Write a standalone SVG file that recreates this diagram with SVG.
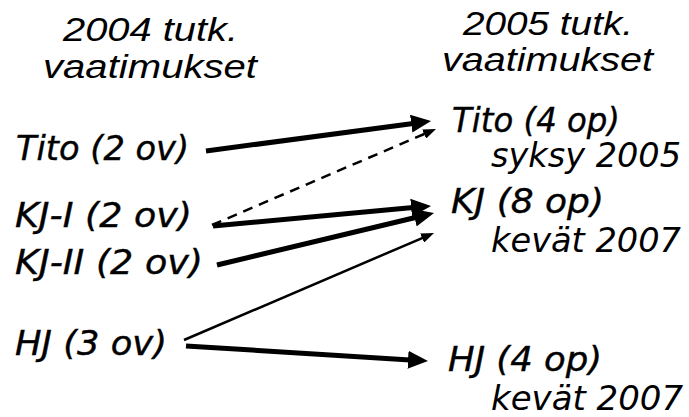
<svg xmlns="http://www.w3.org/2000/svg" width="689" height="417" viewBox="0 0 689 417">
<defs>
<style>
.hdr{font-family:"Liberation Sans",Arial,sans-serif;font-style:italic;font-size:33px;fill:#000}
.lbl{font-family:"DejaVu Sans",Verdana,sans-serif;font-style:italic;font-size:33px;fill:#000;stroke:#000;stroke-width:0.4}
.sub{font-family:"DejaVu Sans",Verdana,sans-serif;font-style:italic;font-size:33px;fill:#000}
.thick{stroke:#000;stroke-width:5;fill:none;marker-end:url(#headL)}
.thin{stroke:#000;stroke-width:2.5;fill:none;marker-end:url(#headS)}
.dash{stroke-dasharray:10 7}
</style>
<marker id="headL" markerUnits="userSpaceOnUse" markerWidth="22" markerHeight="18" refX="2" refY="9" orient="auto">
<path d="M0,0 L20,9 L0,18 z" fill="#000"/>
</marker>
<marker id="headS" markerUnits="userSpaceOnUse" markerWidth="15" markerHeight="10" refX="2" refY="5" orient="auto">
<path d="M0,0 L13,5 L0,10 z" fill="#000"/>
</marker>
</defs>
<rect width="689" height="417" fill="#fff"/>
<g id="header-2004">
<text class="hdr" x="63" y="41" textLength="175" lengthAdjust="spacingAndGlyphs">2004 tutk.</text>
<text class="hdr" x="43" y="78" textLength="214" lengthAdjust="spacingAndGlyphs">vaatimukset</text>
</g>
<g id="header-2005">
<text class="hdr" x="463" y="35" textLength="170" lengthAdjust="spacingAndGlyphs">2005 tutk.</text>
<text class="hdr" x="442" y="71" textLength="211" lengthAdjust="spacingAndGlyphs">vaatimukset</text>
</g>
<g id="tito-2004"><text class="lbl" x="16" y="160" textLength="173" lengthAdjust="spacingAndGlyphs">Tito (2 ov)</text></g>
<g id="kj1-2004"><text class="lbl" x="15" y="227" textLength="177" lengthAdjust="spacingAndGlyphs">KJ-I (2 ov)</text></g>
<g id="kj2-2004"><text class="lbl" x="15" y="274" textLength="188" lengthAdjust="spacingAndGlyphs">KJ-II (2 ov)</text></g>
<g id="hj-2004"><text class="lbl" x="15" y="355" textLength="152" lengthAdjust="spacingAndGlyphs">HJ (3 ov)</text></g>
<g id="tito-2005">
<text class="lbl" x="452" y="132" textLength="168" lengthAdjust="spacingAndGlyphs">Tito (4 op)</text>
<text class="sub" x="491" y="167" textLength="190" lengthAdjust="spacingAndGlyphs">syksy 2005</text>
</g>
<g id="kj-2005">
<text class="lbl" x="451" y="213" textLength="153" lengthAdjust="spacingAndGlyphs">KJ (8 op)</text>
<text class="sub" x="491" y="252" textLength="190" lengthAdjust="spacingAndGlyphs">kevät 2007</text>
</g>
<g id="hj-2005">
<text class="lbl" x="448" y="371" textLength="154" lengthAdjust="spacingAndGlyphs">HJ (4 op)</text>
<text class="sub" x="491" y="410" textLength="192" lengthAdjust="spacingAndGlyphs">kevät 2007</text>
</g>
<g id="connectors">
<line class="thick" x1="206" y1="151" x2="413.2" y2="123.4"/>
<line class="thin dash" x1="212" y1="225" x2="425.9" y2="133.3"/>
<line class="thick" x1="213" y1="226" x2="413.1" y2="207.6"/>
<line class="thick" x1="217" y1="265" x2="416.5" y2="217.2"/>
<line class="thin" x1="184" y1="340" x2="423.9" y2="237.3"/>
<line class="thick" x1="186" y1="346" x2="410" y2="359.9"/>
</g>
</svg>
